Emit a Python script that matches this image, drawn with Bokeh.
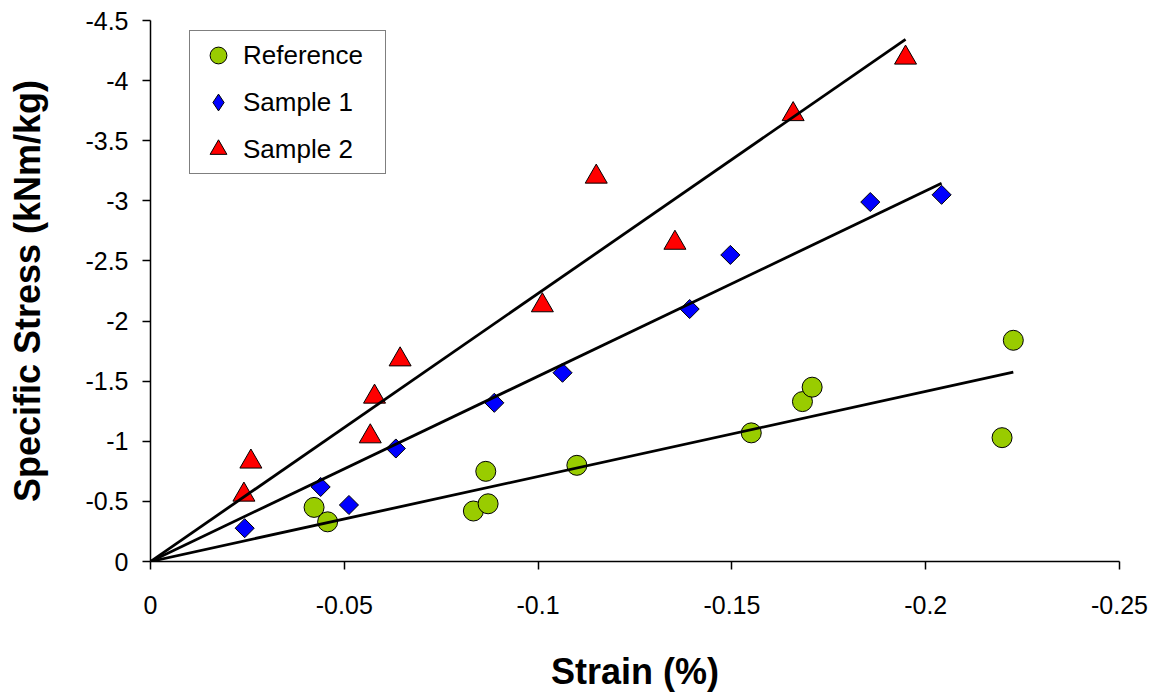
import numpy as np
from bokeh.plotting import figure
from bokeh.models import Range1d, FixedTicker, Legend, LegendItem
from bokeh.embed import file_html
from bokeh.resources import INLINE

# ---- data ----
ref_strain = [-0.0422, -0.0457, -0.0833, -0.0871, -0.0865, -0.110, -0.155, -0.1682, -0.1707, -0.2197, -0.2226]
ref_stress = [-0.45, -0.33, -0.42, -0.48, -0.75, -0.80, -1.07, -1.33, -1.45, -1.03, -1.84]

s1_strain = [-0.0243, -0.0439, -0.0512, -0.0633, -0.0887, -0.1063, -0.1391, -0.1496, -0.1857, -0.2041]
s1_stress = [-0.277, -0.62, -0.47, -0.94, -1.32, -1.57, -2.10, -2.55, -2.99, -3.05]

s2_strain = [-0.0241, -0.0259, -0.0567, -0.0578, -0.0644, -0.1011, -0.1150, -0.1353, -0.1658, -0.1948]
s2_stress = [-0.555, -0.83, -1.04, -1.37, -1.68, -2.13, -3.20, -2.65, -3.72, -4.19]

series_names = ["Reference", "Sample 1", "Sample 2"]

x_ticks = [0, -0.05, -0.1, -0.15, -0.2, -0.25]
x_tick_labels = ["0", "-0.05", "-0.1", "-0.15", "-0.2", "-0.25"]
y_ticks = [0, -0.5, -1, -1.5, -2, -2.5, -3, -3.5, -4, -4.5]
y_tick_labels = ["0", "-0.5", "-1", "-1.5", "-2", "-2.5", "-3", "-3.5", "-4", "-4.5"]

x_title = "Strain (%)"
y_title = "Specific Stress (kNm/kg)"


def origin_fit(xs, ys):
    """Least-squares line through the origin, from 0 to the largest strain."""
    x = np.asarray(xs, dtype=float)
    y = np.asarray(ys, dtype=float)
    k = (x * y).sum() / (x * x).sum()
    xe = x.min()
    return [0.0, xe], [0.0, k * xe]


FONT = "Liberation Sans"
GREEN, BLUE, RED = "#99CC00", "#0000FF", "#FF0000"

p = figure(width=1163, height=697, output_backend="svg", toolbar_location=None,
           x_range=Range1d(x_ticks[0], x_ticks[-1]), y_range=Range1d(y_ticks[0], y_ticks[-1]),
           min_border_left=150, min_border_right=44, min_border_top=20, min_border_bottom=136)
p.outline_line_color = None
p.grid.visible = False
p.background_fill_color = "white"
p.border_fill_color = "white"

r_ref = p.scatter(ref_strain, ref_stress, marker="circle", size=20,
                  fill_color=GREEN, line_color="black", line_width=1)
r_s1 = p.scatter(s1_strain, s1_stress, marker="square", angle=np.pi / 4, size=13.5,
                 fill_color=BLUE, line_color="black", line_width=1)
r_s2 = p.scatter(s2_strain, s2_stress, marker="triangle", size=22,
                 fill_color=RED, line_color="black", line_width=1)
# legend key for the diamond series (the legend does not rotate markers);
# it has no visible position in the plot
r_s1_key = p.scatter(x=np.array([np.nan]), y=np.array([np.nan]), marker="diamond", size=13.5,
                     fill_color=BLUE, line_color="black", line_width=1)

for xs, ys in [(ref_strain, ref_stress), (s1_strain, s1_stress), (s2_strain, s2_stress)]:
    fx, fy = origin_fit(xs, ys)
    p.line(fx, fy, line_color="black", line_width=2.8)

# axes
for ax, ticks, labels in [(p.xaxis[0], x_ticks, x_tick_labels), (p.yaxis[0], y_ticks, y_tick_labels)]:
    ax.ticker = FixedTicker(ticks=ticks)
    ax.major_label_overrides = dict(zip(ticks, labels))
    ax.minor_tick_line_color = None
    ax.axis_line_color = "black"
    ax.axis_line_width = 1.5
    ax.major_tick_line_color = "black"
    ax.major_tick_line_width = 1.5
    ax.major_tick_in = 0
    ax.major_tick_out = 8
    ax.major_label_text_font = FONT
    ax.major_label_text_font_size = "25px"
    ax.major_label_text_color = "black"
    ax.axis_label_text_font = FONT
    ax.axis_label_text_font_size = "36px"
    ax.axis_label_text_font_style = "bold"
    ax.axis_label_text_color = "black"

p.xaxis.axis_label = x_title
p.yaxis.axis_label = y_title
p.xaxis.major_label_standoff = 26
p.yaxis.major_label_standoff = 14
p.xaxis.axis_label_standoff = 34
p.yaxis.axis_label_standoff = 34

legend = Legend(items=[LegendItem(label=series_names[0], renderers=[r_ref]),
                       LegendItem(label=series_names[1], renderers=[r_s1_key]),
                       LegendItem(label=series_names[2], renderers=[r_s2])],
                location=(39, 387), orientation="vertical", margin=0,
                padding=3, spacing=5, glyph_width=50, glyph_height=42,
                label_standoff=0, label_width=139, label_height=42,
                label_text_font=FONT, label_text_font_size="26px", label_text_color="black",
                border_line_color="black", border_line_width=1.5,
                background_fill_color="white", background_fill_alpha=1.0)
p.add_layout(legend)

open("out.html", "w").write(file_html(p, INLINE))
